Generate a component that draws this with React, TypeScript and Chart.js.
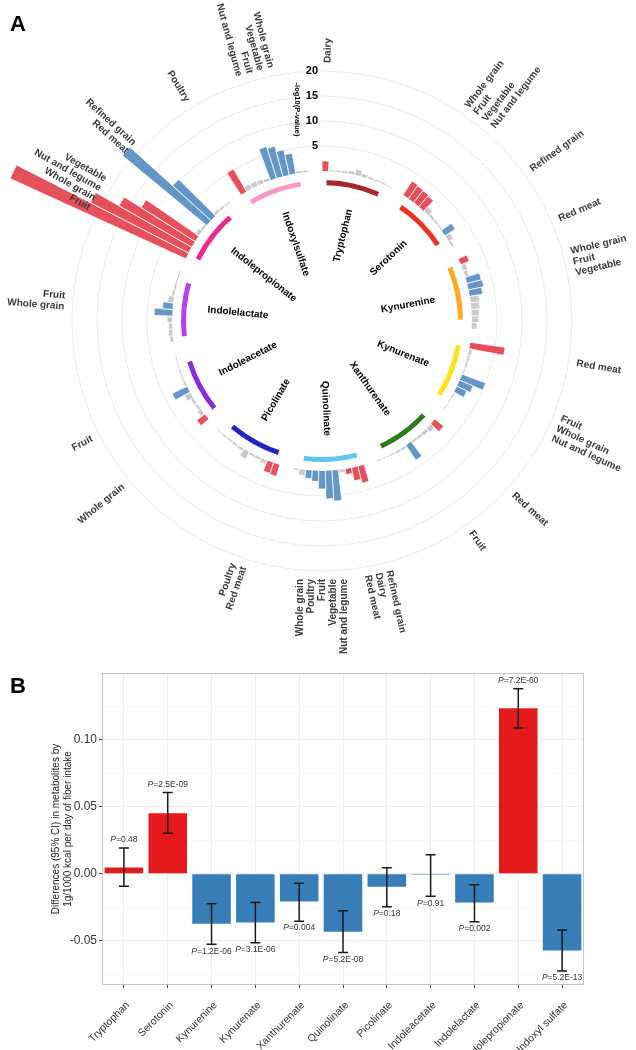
import React, { useEffect, useRef } from "react";
import { Chart, registerables } from "chart.js";

Chart.register(...registerables);

const FONT = "'Liberation Sans', Arial, Helvetica, sans-serif";

// ---------------- Panel A data ----------------
const metabolites = [
  "Tryptophan", "Serotonin", "Kynurenine", "Kynurenate", "Xanthurenate", "Quinolinate",
  "Picolinate", "Indoleacetate", "Indolelactate", "Indolepropionate", "Indoxylsulfate",
];
const ringColors = [
  "#A6282D", "#F0301E", "#FBA91E", "#FFE21A", "#2B7A1E", "#5CC6EE",
  "#2323C8", "#8A2BE2", "#BE3CF0", "#F0288C", "#FB98C8",
];
const barsPerGroup = 11;
const gapSlots = 2;
// -log10(P) of each food group bar, clockwise inside each metabolite
const logP = [
  [2.0, 0.3, 0.3, 0.4, 0.6, 1.1, 0.6, 0.4, 0.3, 0.3, 0.2],
  [3.3, 3.1, 3.0, 2.8, 1.2, 0.5, 0.4, 0.3, 2.4, 1.0, 0.4],
  [1.8, 0.9, 0.8, 2.9, 3.1, 2.6, 1.8, 1.7, 1.5, 1.3, 1.0],
  [7.0, 0.6, 0.5, 0.4, 0.3, 5.0, 2.9, 2.2, 0.3, 0.2, 0.2],
  [2.2, 1.0, 0.7, 0.5, 0.4, 3.6, 0.5, 0.4, 0.3, 0.2, 0.2],
  [3.4, 2.6, 1.1, 0.6, 6.1, 5.6, 3.6, 2.1, 1.6, 1.1, 0.3],
  [2.4, 2.2, 0.8, 0.5, 0.5, 1.6, 0.5, 0.4, 0.3, 0.3, 0.2],
  [2.0, 0.8, 0.5, 0.6, 1.3, 3.3, 0.4, 0.3, 0.3, 0.2, 0.2],
  [0.6, 0.8, 0.7, 1.0, 3.6, 2.0, 1.1, 0.5, 0.4, 0.3, 0.3],
  [38.6, 22.0, 16.7, 12.7, 0.8, 0.5, 21.8, 10.3, 0.6, 0.4, 0.3],
  [5.2, 1.0, 1.0, 0.8, 0.6, 6.6, 6.2, 5.1, 4.1, 0.4, 0.3],
];
// 1 = positive association (red), -1 = inverse (blue), 0 = not significant (grey)
const direction = [
  [1, 0, 0, 0, 0, 0, 0, 0, 0, 0, 0],
  [1, 1, 1, 1, 0, 0, 0, 0, -1, 0, 0],
  [1, 0, 0, -1, -1, -1, 0, 0, 0, 0, 0],
  [1, 0, 0, 0, 0, -1, -1, -1, 0, 0, 0],
  [1, 0, 0, 0, 0, -1, 0, 0, 0, 0, 0],
  [1, 1, 1, 0, -1, -1, -1, -1, -1, 0, 0],
  [1, 1, 0, 0, 0, 0, 0, 0, 0, 0, 0],
  [1, 0, 0, 0, 0, -1, 0, 0, 0, 0, 0],
  [0, 0, 0, 0, -1, -1, 0, 0, 0, 0, 0],
  [1, 1, 1, 1, 0, 0, -1, -1, 0, 0, 0],
  [1, 0, 0, 0, 0, -1, -1, -1, -1, 0, 0],
];
// labels of significant food groups: metabolite index, first and last bar index
const foodLabels = [
  { g: 0, from: 0, to: 0, text: ["Dairy"] },
  { g: 1, from: 0, to: 3, text: ["Whole grain", "Fruit", "Vegetable", "Nut and legume"] },
  { g: 1, from: 8, to: 8, text: ["Refined grain"] },
  { g: 2, from: 0, to: 0, text: ["Red meat"] },
  { g: 2, from: 3, to: 5, text: ["Whole grain", "Fruit", "Vegetable"] },
  { g: 3, from: 0, to: 0, text: ["Red meat"] },
  { g: 3, from: 5, to: 7, text: ["Fruit", "Whole grain", "Nut and legume"] },
  { g: 4, from: 0, to: 0, text: ["Red meat"] },
  { g: 4, from: 5, to: 5, text: ["Fruit"] },
  { g: 5, from: 0, to: 2, text: ["Refined grain", "Dairy", "Red meat"] },
  { g: 5, from: 4, to: 8, text: ["Whole grain", "Poultry", "Fruit", "Vegetable", "Nut and legume"] },
  { g: 6, from: 0, to: 1, text: ["Poultry", "Red meat"] },
  { g: 7, from: 0, to: 0, text: ["Whole grain"] },
  { g: 7, from: 5, to: 5, text: ["Fruit"] },
  { g: 8, from: 4, to: 5, text: ["Fruit", "Whole grain"] },
  { g: 9, from: 0, to: 3, text: ["Vegetable", "Nut and legume", "Whole grain", "Fruit"] },
  { g: 9, from: 6, to: 7, text: ["Refined grain", "Red meat"] },
  { g: 10, from: 0, to: 0, text: ["Poultry"] },
  { g: 10, from: 5, to: 8, text: ["Whole grain", "Vegetable", "Fruit", "Nut and legume"] },
];
const radialTicks = [5, 10, 15, 20];

// ---------------- Panel B data ----------------
const metabolitesB = [
  "Tryptophan", "Serotonin", "Kynurenine", "Kynurenate", "Xanthurenate", "Quinolinate",
  "Picolinate", "Indoleacetate", "Indolelactate", "Indolepropionate", "Indoxyl sulfate",
];
const effect = [0.0047, 0.0453, -0.0373, -0.0363, -0.0206, -0.0433, -0.0097, -0.0006, -0.0214, 0.1236, -0.0573];
const ciLow = [-0.0092, 0.0303, -0.0525, -0.0515, -0.0353, -0.0587, -0.0246, -0.0167, -0.0358, 0.109, -0.0726];
const ciHigh = [0.0194, 0.0607, -0.0223, -0.0213, -0.007, -0.0276, 0.0045, 0.0142, -0.0082, 0.1383, -0.042];
const pValues = ["0.48", "2.5E-09", "1.2E-06", "3.1E-06", "0.004", "5.2E-08", "0.18", "0.91", "0.002", "7.2E-60", "5.2E-13"];
const yTicksB = [-0.075, -0.05, -0.025, 0, 0.025, 0.05, 0.075, 0.1, 0.125];

// ---------------- styles ----------------
const RED_A = "#E6505A";
const BLUE_A = "#6496C8";
const GREY_A = "#CBCBCB";
const CLEAR = "rgba(0,0,0,0)";
const RING_OUTER = -1.8;
const RING_INNER = -2.8;
const R_MIN = -30;
const R_MAX = 32.8;

// build the polar datasets from the arrays above
const barValues: number[] = [];
const barColors: string[] = [];
const barBorders: number[] = [];
logP.forEach((grp, g) => {
  grp.forEach((v, s) => {
    barValues.push(v);
    const d = direction[g][s];
    barColors.push(d > 0 ? RED_A : d < 0 ? BLUE_A : GREY_A);
    barBorders.push(0.8);
  });
  for (let k = 0; k < gapSlots; k++) {
    barValues.push(0);
    barColors.push(CLEAR);
    barBorders.push(0);
  }
});
const slotDeg = 360 / barValues.length;
const ringAngles: number[] = [];
const ringValues: number[] = [];
const ringCols: string[] = [];
metabolites.forEach((_, g) => {
  ringAngles.push(0.75 * slotDeg, 8.75 * slotDeg, (barsPerGroup + gapSlots - 9.5) * slotDeg);
  ringValues.push(RING_OUTER, RING_OUTER, RING_OUTER);
  ringCols.push(CLEAR, ringColors[g], CLEAR);
});

function drawRadial(ctx: CanvasRenderingContext2D, lines: string[], xc: number, yc: number,
  theta: number, r: number, outside: boolean, lh: number) {
  const a = ((((theta + Math.PI / 2) * 180) / Math.PI) % 360 + 360) % 360;
  const right = a < 179.5;
  ctx.save();
  ctx.translate(xc + r * Math.cos(theta), yc + r * Math.sin(theta));
  ctx.rotate(right ? theta : theta + Math.PI);
  ctx.textAlign = outside ? (right ? "left" : "right") : right ? "right" : "left";
  ctx.textBaseline = "middle";
  lines.forEach((t, i) => ctx.fillText(t, 0, (i - (lines.length - 1) / 2) * lh));
  ctx.restore();
}

const polarDecor = {
  id: "polarDecor",
  afterDatasetDraw(chart: any, args: any) {
    const s = chart.scales.r;
    const ctx = chart.ctx as CanvasRenderingContext2D;
    const r = args.index === 0 ? s.getDistanceFromCenterForValue(0) : s.getDistanceFromCenterForValue(RING_INNER);
    ctx.save();
    ctx.beginPath();
    ctx.arc(s.xCenter, s.yCenter, r, 0, Math.PI * 2);
    ctx.fillStyle = "#ffffff";
    ctx.fill();
    ctx.restore();
  },
  afterDraw(chart: any) {
    const s = chart.scales.r;
    const ctx = chart.ctx as CanvasRenderingContext2D;
    const xc = s.xCenter;
    const yc = s.yCenter;
    const meta = chart.getDatasetMeta(0);
    const per = barsPerGroup + gapSlots;
    const mid = (g: number, a: number, b: number) =>
      (meta.data[g * per + a].startAngle + meta.data[g * per + b].endAngle) / 2;

    // food labels
    ctx.fillStyle = "#3a3a3a";
    ctx.font = `bold 10px ${FONT}`;
    const rLab = s.getDistanceFromCenterForValue(21.6);
    foodLabels.forEach((l) => drawRadial(ctx, l.text, xc, yc, mid(l.g, l.from, l.to), rLab, true, 11));

    // metabolite labels
    ctx.fillStyle = "#000";
    ctx.font = `bold 10px ${FONT}`;
    const rIn = s.getDistanceFromCenterForValue(-7);
    metabolites.forEach((m, g) => drawRadial(ctx, [m], xc, yc, mid(g, 0, barsPerGroup - 1), rIn, false, 11));

    // radial tick labels
    ctx.font = `bold 11px ${FONT}`;
    ctx.textAlign = "right";
    ctx.textBaseline = "middle";
    radialTicks.forEach((v) => ctx.fillText(String(v), xc - 4, yc - s.getDistanceFromCenterForValue(v)));

    // axis title
    ctx.save();
    ctx.translate(xc - 25, yc - s.getDistanceFromCenterForValue(12.3));
    ctx.rotate(Math.PI / 2);
    ctx.font = `bold 7.5px ${FONT}`;
    ctx.textAlign = "center";
    ctx.fillText("-log10(P-value)", 0, 0);
    ctx.restore();

    // panel letter
    ctx.font = `bold 22px ${FONT}`;
    ctx.textAlign = "left";
    ctx.textBaseline = "alphabetic";
    ctx.fillText("A", 10, 31);
  },
};

const isMajor = (v: number) => Math.abs(Math.round(v * 20) - v * 20) < 1e-6;

const errorBars = {
  id: "errorBars",
  afterDatasetsDraw(chart: any) {
    const ctx = chart.ctx as CanvasRenderingContext2D;
    const x = chart.scales.x;
    const y = chart.scales.y;
    ctx.save();
    effect.forEach((v, i) => {
      const px = x.getPixelForValue(i);
      const yl = y.getPixelForValue(ciLow[i]);
      const yh = y.getPixelForValue(ciHigh[i]);
      ctx.strokeStyle = "#1a1a1a";
      ctx.lineWidth = 1.5;
      ctx.beginPath();
      ctx.moveTo(px, yl);
      ctx.lineTo(px, yh);
      ctx.moveTo(px - 5, yl);
      ctx.lineTo(px + 5, yl);
      ctx.moveTo(px - 5, yh);
      ctx.lineTo(px + 5, yh);
      ctx.stroke();

      const ty = v > 0 ? yh - 8 : yl + 7;
      const rest = "=" + pValues[i];
      ctx.font = `italic 8.5px ${FONT}`;
      const wP = ctx.measureText("P").width;
      ctx.font = `8.5px ${FONT}`;
      const wR = ctx.measureText(rest).width;
      const x0 = px - (wP + wR) / 2;
      ctx.fillStyle = "#333";
      ctx.textBaseline = "middle";
      ctx.textAlign = "left";
      ctx.font = `italic 8.5px ${FONT}`;
      ctx.fillText("P", x0, ty);
      ctx.font = `8.5px ${FONT}`;
      ctx.fillText(rest, x0 + wP, ty);
    });
    const ca = chart.chartArea;
    ctx.strokeStyle = "#C4C4C4";
    ctx.lineWidth = 1;
    ctx.strokeRect(Math.round(ca.left) + 0.5, Math.round(ca.top) + 0.5, Math.round(ca.right - ca.left) - 1, Math.round(ca.bottom - ca.top) - 1);
    ctx.fillStyle = "#000";
    ctx.font = `bold 22px ${FONT}`;
    ctx.textAlign = "left";
    ctx.textBaseline = "alphabetic";
    ctx.fillText("B", 10, 51);
    ctx.restore();
  },
};

export default function App() {
  const refA = useRef<HTMLCanvasElement>(null);
  const refB = useRef<HTMLCanvasElement>(null);

  useEffect(() => {
    Chart.defaults.font.family = FONT;
    const chartA = new Chart(refA.current as HTMLCanvasElement, {
      type: "polarArea",
      data: {
        labels: barValues.map(() => ""),
        datasets: [
          {
            data: barValues,
            backgroundColor: barColors,
            borderColor: "#ffffff",
            borderWidth: barBorders,
            order: 2,
          } as any,
          {
            data: ringValues,
            backgroundColor: ringCols,
            borderWidth: 0,
            angle: (c: any) => ringAngles[c.dataIndex],
            order: 1,
          } as any,
        ],
      },
      options: {
        responsive: false,
        animation: false,
        layout: { padding: { left: 8, right: 0, top: 0, bottom: 20 } },
        plugins: { legend: { display: false }, tooltip: { enabled: false } },
        scales: {
          r: {
            min: R_MIN,
            max: R_MAX,
            startAngle: 0,
            ticks: { display: false },
            grid: { color: "#EBEBEB", lineWidth: 1, circular: true },
            angleLines: { display: false },
            pointLabels: { display: false },
            afterBuildTicks: (sc: any) => {
              sc.ticks = radialTicks.map((v) => ({ value: v }));
            },
          } as any,
        },
      } as any,
      plugins: [polarDecor],
    });

    const chartB = new Chart(refB.current as HTMLCanvasElement, {
      type: "bar",
      data: {
        labels: metabolitesB,
        datasets: [
          {
            data: effect,
            backgroundColor: effect.map((v) => (v > 0 ? "#E41A1C" : "#377EB8")),
            borderWidth: 0,
            barPercentage: 0.88,
            categoryPercentage: 1,
          },
        ],
      },
      options: {
        responsive: false,
        animation: false,
        layout: { padding: { top: 31, right: 52, left: 0, bottom: 0 } },
        plugins: { legend: { display: false }, tooltip: { enabled: false } },
        scales: {
          x: {
            grid: { offset: false, color: "#EDEDED", tickColor: "#444", tickLength: 3 },
            border: { display: false },
            ticks: {
              minRotation: 45,
              maxRotation: 45,
              autoSkip: false,
              color: "#333",
              font: { family: FONT, size: 10.5 },
              padding: 11,
              labelOffset: 4,
            },
            afterFit: (sc: any) => {
              sc.height = 65;
            },
          },
          y: {
            min: -0.083,
            max: 0.15,
            afterBuildTicks: (sc: any) => {
              sc.ticks = yTicksB.map((v) => ({ value: v }));
            },
            ticks: {
              autoSkip: false,
              color: "#333",
              font: { family: FONT, size: 12 },
              padding: 2,
              callback: (v: any) => (isMajor(Number(v)) ? Number(v).toFixed(2) : ""),
            },
            grid: {
              color: (c: any) => (c.tick && isMajor(c.tick.value) ? "#EBEBEB" : "#F5F5F5"),
              lineWidth: (c: any) => (c.tick && isMajor(c.tick.value) ? 1 : 0.7),
              tickColor: (c: any) => (c.tick && isMajor(c.tick.value) ? "#444" : CLEAR),
              tickLength: 3,
            },
            border: { display: false },
            title: {
              display: true,
              text: ["Differences (95% CI) in metabolites by", "1g/1000 kcal per day of fiber intake"],
              color: "#222",
              font: { family: FONT, size: 10 },
              padding: { top: 50, bottom: 0 },
            },
            afterFit: (sc: any) => {
              sc.width = 102;
            },
          },
        },
      } as any,
      plugins: [errorBars],
    });

    return () => {
      chartA.destroy();
      chartB.destroy();
    };
  }, []);

  return (
    <div style={{ position: "absolute", left: 0, top: 0, width: 636, height: 1050, background: "#fff", overflow: "hidden" }}>
      <canvas ref={refA} width={636} height={662} style={{ position: "absolute", left: 0, top: 0, width: 636, height: 662 }} />
      <canvas ref={refB} width={636} height={408} style={{ position: "absolute", left: 0, top: 642, width: 636, height: 408 }} />
    </div>
  );
}
